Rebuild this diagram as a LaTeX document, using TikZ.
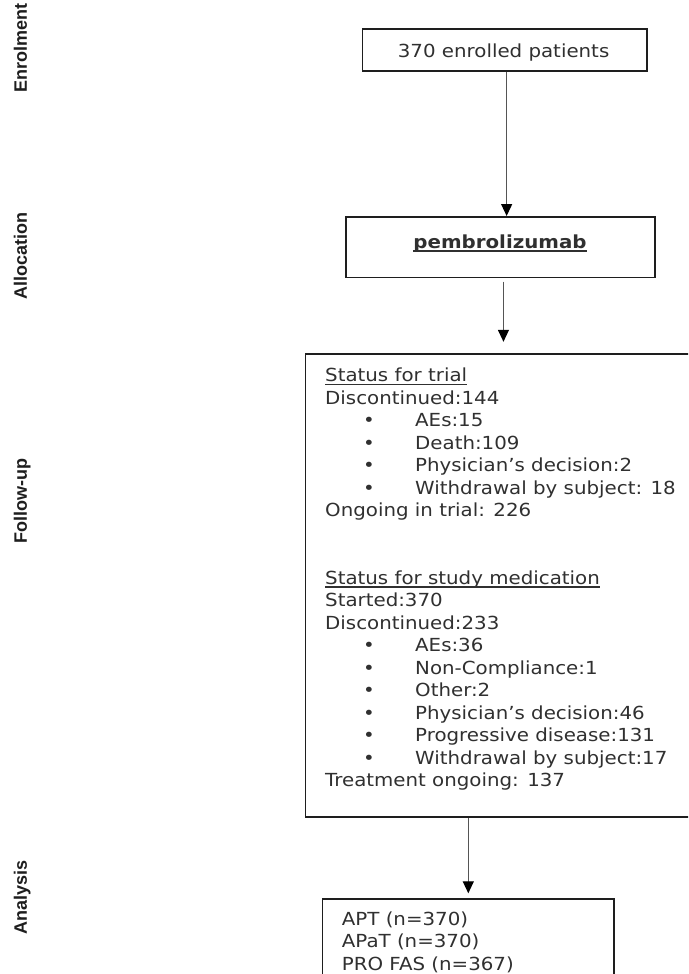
\documentclass[tikz,border=0pt]{standalone}
\usepackage{fontspec}
\setmainfont{DejaVu Sans}[FakeStretch=1.1]
\newfontfamily\lblfont{Liberation Sans}
\usetikzlibrary{arrows.meta}
\definecolor{txt}{HTML}{303030}
\definecolor{edgec}{HTML}{1E1E1E}
\definecolor{arrc}{HTML}{555555}
\definecolor{lblc}{HTML}{1E1E1E}
\newcommand\ulx[1]{\setbox0\hbox{#1}\rlap{\rule[-3.6pt]{\wd0}{1.3pt}}\box0}
\newcommand\bul[1]{\hbox{\hspace*{38pt}\makebox[52pt][l]{\textbullet}#1}}
\tikzset{
  boxnode/.style={draw=edgec, line width=1.6pt, rectangle, inner sep=0pt, anchor=north west},
  txtnode/.style={inner sep=0pt, text=txt, font=\fontsize{18}{22.5}\selectfont},
  phase/.style={inner sep=0pt, rotate=90, anchor=base, text=lblc, font=\lblfont\bfseries\fontsize{18}{20}\selectfont},
  flow/.style={draw=arrc, line width=1.2pt, -{Triangle[width=11pt,length=12pt,color=black]}}
}
\begin{document}
\begin{tikzpicture}[x=1pt,y=-1pt]
\useasboundingbox (0,0) rectangle (688,974);
\clip (0,0) rectangle (688,974);
\fill[white] (0,0) rectangle (688,974);

% phase labels
\node[phase] (lenr) at (27,48) {Enrolment};
\node[phase] (lall) at (27,256) {Allocation};
\node[phase] (lfol) at (27,501) {Follow-up};
\node[phase] (lana) at (27,897) {Analysis};

% boxes
\node[boxnode, minimum width=284.3pt, minimum height=41.7pt] (b1) at (361.7,28.3) {};
\node[boxnode, minimum width=309.3pt, minimum height=60.5pt] (b2) at (345,216) {};
\node[boxnode, minimum width=400pt, minimum height=462.7pt] (b3) at (304.5,353.3) {};
\node[boxnode, minimum width=291.6pt, minimum height=100pt] (b4) at (321.7,898.3) {};

% texts
\node[txtnode, anchor=base] (t1) at (503.6,57.3) {370 enrolled patients};
\node[txtnode, anchor=base] (t2) at (500,248) {\bfseries\ulx{pembrolizumab}};
\node[txtnode, anchor=base west] (t3) at (325,381.5) {\vtop{\fontsize{18}{22.5}\selectfont
  \hbox{\ulx{Status for trial}}
  \hbox{Discontinued:144}
  \bul{AEs:15}
  \bul{Death:109}
  \bul{Physician’s decision:2}
  \bul{Withdrawal by subject: 18}
  \hbox{Ongoing in trial: 226}
  \hbox{}
  \hbox{}
  \hbox{\ulx{Status for study medication}}
  \hbox{Started:370}
  \hbox{Discontinued:233}
  \bul{AEs:36}
  \bul{Non-Compliance:1}
  \bul{Other:2}
  \bul{Physician’s decision:46}
  \bul{Progressive disease:131}
  \bul{Withdrawal by subject:17}
  \hbox{Treatment ongoing: 137}}};
\node[txtnode, anchor=base west] (t4) at (341.7,925) {\vtop{\fontsize{18}{22.5}\selectfont
  \hbox{APT (n=370)}
  \hbox{APaT (n=370)}
  \hbox{PRO FAS (n=367)}}};

% connectors
\draw[flow] ([xshift=2pt]b1.south) -- ([xshift=2pt]b1.south |- b2.north);
\draw[flow, shorten <=3.5pt, shorten >=11.5pt] ([xshift=3pt]b2.south) -- ([xshift=3pt]b2.south |- b3.north);
\draw[flow, shorten >=5pt] (b4.north |- b3.south) -- (b4.north);
\end{tikzpicture}
\end{document}
